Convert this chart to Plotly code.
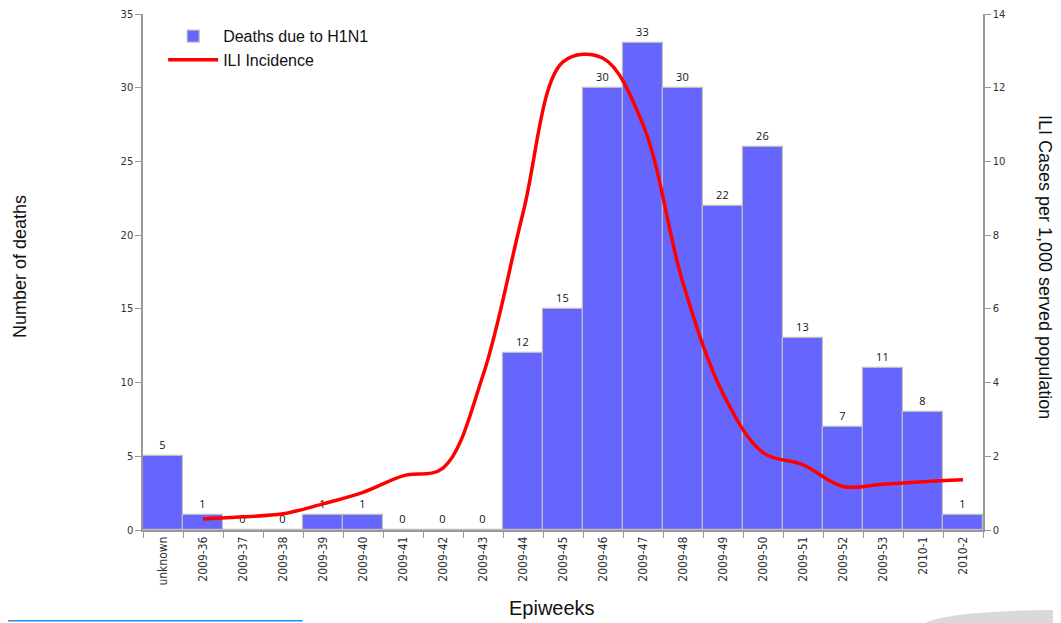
import plotly.graph_objects as go

weeks = ["unknown", "2009-36", "2009-37", "2009-38", "2009-39", "2009-40", "2009-41",
         "2009-42", "2009-43", "2009-44", "2009-45", "2009-46", "2009-47", "2009-48",
         "2009-49", "2009-50", "2009-51", "2009-52", "2009-53", "2010-1", "2010-2"]
deaths = [5, 1, 0, 0, 1, 1, 0, 0, 0, 12, 15, 30, 33, 30, 22, 26, 13, 7, 11, 8, 1]
ili = [None, 0.30, 0.36, 0.44, 0.71, 1.02, 1.47, 1.68, 4.2, 8.6, 12.7, 12.8, 11.0,
       6.7, 3.7, 2.1, 1.77, 1.18, 1.24, 1.31, 1.36]

fig = go.Figure()
fig.add_trace(go.Bar(
    x=weeks, y=deaths, name="Deaths due to H1N1",
    marker=dict(color="#6666FF", line=dict(color="#BDBDBD", width=1.2)),
    text=[str(v) for v in deaths], textposition="outside",
    textfont=dict(family="Open Sans, Arial", size=11, color="#111"),
    cliponaxis=False,
))
fig.add_trace(go.Scatter(
    x=weeks, y=ili, name="ILI Incidence", yaxis="y2", mode="lines",
    line=dict(color="#FF0000", width=3.5, shape="spline", smoothing=1.0),
    connectgaps=False,
))

fig.update_layout(
    width=1053, height=615,
    margin=dict(l=135, r=78, t=6, b=93),
    paper_bgcolor="white", plot_bgcolor="white",
    bargap=0,
    showlegend=True,
    legend=dict(x=0.024, y=0.99, xanchor="left", yanchor="top",
                font=dict(family="Arial", size=16, color="#111"),
                bgcolor="rgba(255,255,255,0)", itemwidth=50, tracegroupgap=4),
    font=dict(family="Arial"),
    xaxis=dict(
        type="category", showline=True, linecolor="#999", linewidth=1.5,
        ticks="outside", tickson="boundaries", ticklen=6, tickcolor="#999",
        tickangle=-90, tickfont=dict(family="DejaVu Sans Condensed, Arial", size=12, color="#333"),
        showgrid=False, range=[-0.5, 20.5], automargin=False,
    ),
    yaxis=dict(
        range=[0, 35], dtick=5, showline=True, linecolor="#999", linewidth=1.5,
        ticks="outside", ticklen=6, tickcolor="#999", showgrid=False, zeroline=False,
        tickfont=dict(family="DejaVu Sans, Arial", size=10, color="#333"),
        automargin=False,
    ),
    yaxis2=dict(
        range=[0, 14], dtick=2, overlaying="y", side="right", showline=True,
        linecolor="#999", linewidth=1.5, ticks="outside", ticklen=6, tickcolor="#999",
        showgrid=False, zeroline=False, automargin=False,
        tickfont=dict(family="DejaVu Sans, Arial", size=10, color="#333"),
    ),
    annotations=[
        dict(text="ILI Cases per 1,000 served population", textangle=90,
             xref="paper", yref="paper", x=1.0, y=0.5, xanchor="center", yanchor="middle",
             xshift=62, yshift=5, showarrow=False,
             font=dict(family="Arial", size=18, color="#111")),
        dict(text="Number of deaths", textangle=-90,
             xref="paper", yref="paper", x=0.0, y=0.5, xanchor="center", yanchor="middle",
             xshift=-123, yshift=5, showarrow=False,
             font=dict(family="Arial", size=18, color="#111")),
        dict(text="Epiweeks", xref="paper", yref="paper", x=0.487, y=0.0,
             xanchor="center", yanchor="middle", yshift=-78,
             showarrow=False, font=dict(family="Arial", size=20, color="#111")),
    ],
    shapes=[
        dict(type="line", xref="paper", yref="paper", x0=-0.17, x1=0.19,
             y0=-0.176, y1=-0.176, line=dict(color="#1E90FF", width=1.5)),
        dict(type="path", xref="paper", yref="paper",
             path="M 0.93 -0.181 Q 0.96 -0.155 1.1 -0.155 L 1.1 -0.181 Z",
             fillcolor="#D9D9D9", line=dict(width=0)),
    ],
)

fig.write_html("out.html")
